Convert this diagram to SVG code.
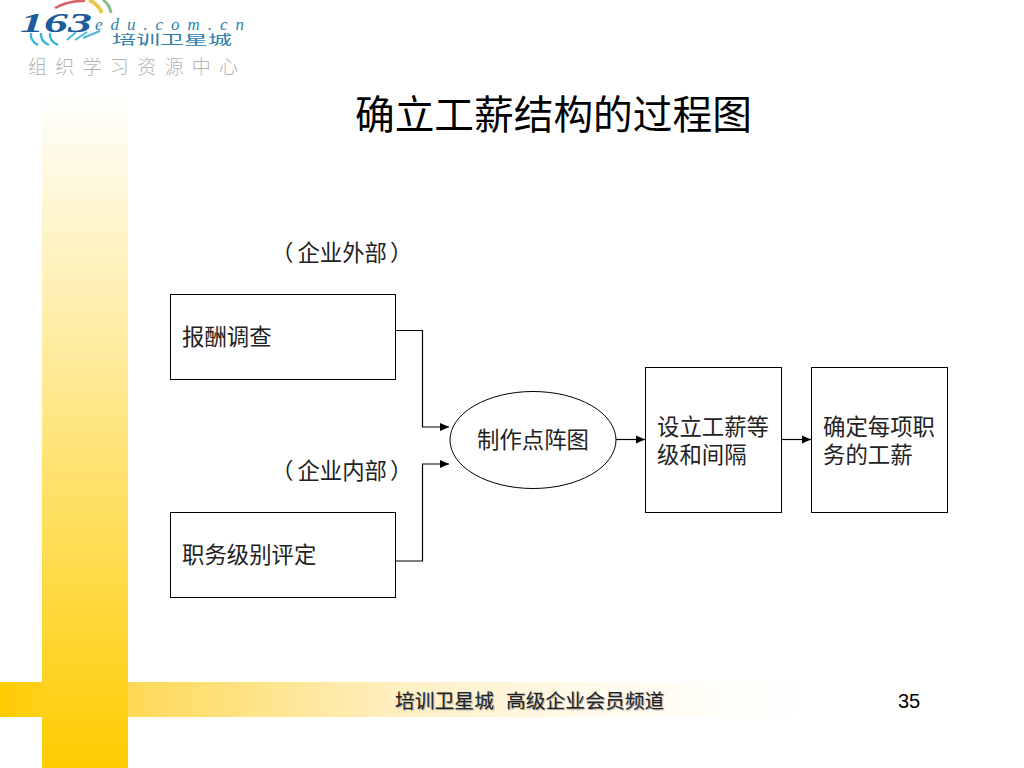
<svg xmlns="http://www.w3.org/2000/svg" width="1024" height="768" viewBox="0 0 1024 768">
<style>
.t{font-family:"Noto Sans CJK SC","Liberation Sans",sans-serif;fill:#222;font-size:22.4px;font-weight:400}
.f{font-size:19.8px;text-shadow:1px 1px 1px #999}
.b{fill:#fff;stroke:#000;stroke-width:1}
.c{fill:none;stroke:#000;stroke-width:1.2}
.s{font-family:"Liberation Serif",serif;font-style:italic}
.g{font-family:"Noto Sans CJK SC",sans-serif}
</style>
<defs>
<linearGradient id="v" x1="0" y1="0" x2="0" y2="1"><stop offset="0" stop-color="#fff"/><stop offset="1" stop-color="#ffcc00"/></linearGradient>
<linearGradient id="h" x1="0" y1="0" x2="1" y2="0"><stop offset="0" stop-color="#ffcc00"/><stop offset="0.16" stop-color="#ffd955"/><stop offset="0.37" stop-color="#fee79a"/><stop offset="0.5" stop-color="#fff0c4"/><stop offset="0.75" stop-color="#fffbee"/><stop offset="1" stop-color="#fff"/></linearGradient>
<marker id="a" markerWidth="9" markerHeight="9" refX="9" refY="4.500" orient="auto" markerUnits="userSpaceOnUse"><path d="M0 0.500L9 4.500L0 8.500z" fill="#000"/></marker>
</defs>
<rect width="1024" height="768" fill="#fff"/>
<g id="background">
<rect x="0" y="682" width="810" height="35" fill="url(#h)"/>
<rect x="42" y="90" width="86" height="678" fill="url(#v)"/>
</g>
<g id="logo">
<path d="M55 8Q70 0 85 1" fill="none" stroke="#d9636b" stroke-width="2.500"/>
<path d="M89 0Q98 4 102 13" fill="none" stroke="#e8c84a" stroke-width="4"/>
<path d="M103 0Q110 5 111 13" fill="none" stroke="#8cc08a" stroke-width="3"/>
<path d="M31 33Q30 41 38 45M41 33Q40 41 49 45M50 33Q49 41 58 45" fill="none" stroke="#35b5d6" stroke-width="2.400"/>
<path d="M67 40L76 32M75 40L87 32M83 38L100 31" fill="none" stroke="#4fb8d8" stroke-width="2"/>
<text x="20" y="32" class="s" font-size="28" font-weight="700" fill="#1a5c9c" textLength="72" lengthAdjust="spacingAndGlyphs">163</text>
<text x="95" y="30" class="s" font-size="17" fill="#2f7fa8" textLength="149" lengthAdjust="spacing">edu.com.cn</text>
<text x="112" y="44" class="g" font-size="13" fill="#2f7fa8" textLength="120" lengthAdjust="spacingAndGlyphs">培训卫星城</text>
<text x="28" y="74" class="g" font-size="19" font-weight="300" fill="#b4b4b4" textLength="210">组织学习资源中心</text>
</g>
<text id="title" x="355" y="129" class="t" style="font-size:39.7px;fill:#000">确立工薪结构的过程图</text>
<text id="label-external" x="275" y="261" class="t"><tspan dx="-4">（</tspan><tspan dx="4">企业外部</tspan><tspan dx="3">）</tspan></text>
<text id="label-internal" x="275" y="479" class="t"><tspan dx="-4">（</tspan><tspan dx="4">企业内部</tspan><tspan dx="3">）</tspan></text>
<g id="connectors">
<path class="c" d="M396 330.500H422.500V427H449" marker-end="url(#a)"/>
<path class="c" d="M396 561H422.500V464H449" marker-end="url(#a)"/>
<path class="c" d="M616 439.500H645" marker-end="url(#a)"/>
<path class="c" d="M781 439.500H811" marker-end="url(#a)"/>
</g>
<g id="node-survey"><rect class="b" x="170.500" y="294.500" width="225" height="85"/><text class="t" x="182" y="345">报酬调查</text></g>
<g id="node-grade"><rect class="b" x="170.500" y="512.500" width="225" height="85"/><text class="t" x="182" y="563">职务级别评定</text></g>
<g id="node-matrix"><ellipse class="b" cx="533" cy="440" rx="83" ry="48.500"/><text class="t" x="477" y="448">制作点阵图</text></g>
<g id="node-levels"><rect class="b" x="645.500" y="367.500" width="136" height="145"/><text class="t" x="657" y="435">设立工薪等<tspan x="657" y="463">级和间隔</tspan></text></g>
<g id="node-pay"><rect class="b" x="811.500" y="367.500" width="136" height="145"/><text class="t" x="823" y="435">确定每项职<tspan x="823" y="463">务的工薪</tspan></text></g>
<g id="footer">
<text x="395" y="708" class="t f">培训卫星城</text>
<text x="506" y="708" class="t f">高级企业会员频道</text>
<text x="898" y="708" font-family="Liberation Sans,sans-serif" font-size="20" fill="#000">35</text>
</g>
</svg>
